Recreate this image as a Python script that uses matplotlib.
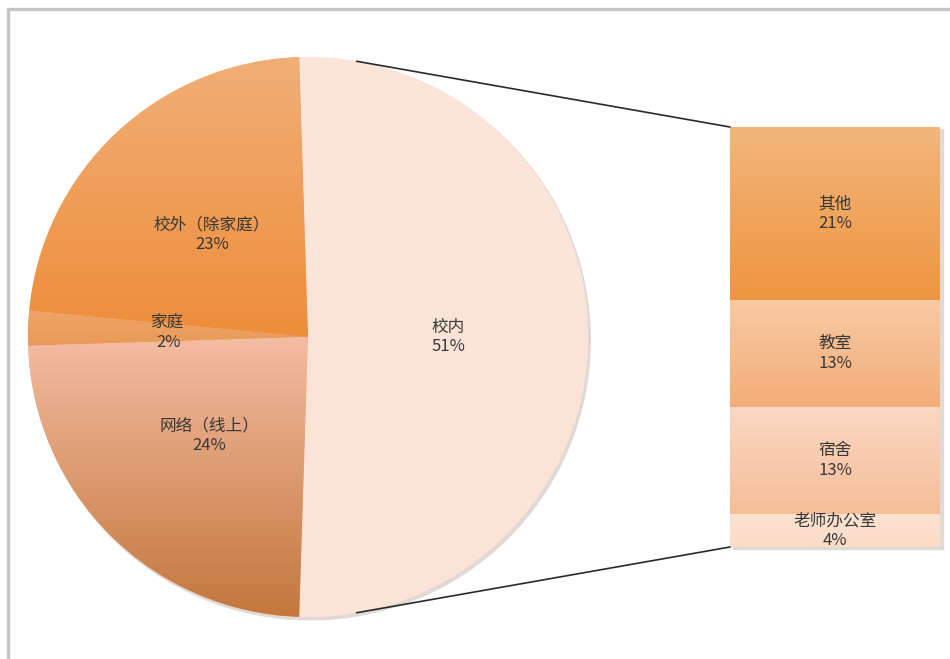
import numpy as np
import matplotlib
matplotlib.use("Agg")
import matplotlib.pyplot as plt
from matplotlib.colors import LinearSegmentedColormap
from matplotlib.patches import Rectangle, Circle, ConnectionPatch

plt.rcParams['font.family'] = ['Noto Sans CJK SC', 'DejaVu Sans']

# pie data (counter-clockwise, 校内 first)
pie_names = ['校内', '校外（除家庭）', '家庭', '网络（线上）']
pie_values = [51, 23, 2, 24]
pie_top = ['#fce6da', '#f1af77', '#efa466', '#f4bca2']
pie_bot = ['#fbe3d5', '#ee8d3a', '#e99a58', '#c3773c']

# breakdown of 校内 (bottom to top)
bar_names = ['老师办公室', '宿舍', '教室', '其他']
bar_values = [4, 13, 13, 21]
bar_top = ['#fce2d1', '#fad8c2', '#f8caa4', '#f2b67c']
bar_bot = ['#fbdcc8', '#f5bd98', '#f3ad78', '#ef9540']

W, H = 950, 659
fig = plt.figure(figsize=(W / 100, H / 100), dpi=100)

# grey frame (cropped on right / bottom)
fig.patches.append(Rectangle((8 / W, -0.1), 1.2, 1 - 9 / H + 0.1,
                             transform=fig.transFigure, fill=False,
                             edgecolor='#c4c4c4', lw=2.4))


def grad_fill(ax, patch, c_top, c_bot, x0, x1, y0, y1):
    cmap = LinearSegmentedColormap.from_list('g', [c_top, c_bot])
    grad = np.linspace(0, 1, 256)[:, None]
    im = ax.imshow(grad, cmap=cmap, extent=(x0, x1, y0, y1),
                   origin='upper', aspect='auto', zorder=patch.get_zorder() + 0.1)
    im.set_clip_path(patch)


txt = dict(ha='center', va='center', fontsize=12, color='#383838',
           linespacing=1.2)

# ---- pie ----
axp = fig.add_axes([28 / W, 42 / H, 560 / W, 560 / H])
startangle = -pie_values[0] / 100 * 360 / 2
labels = [f"{n}\n{v}%" for n, v in zip(pie_names, pie_values)]
shadow = Circle((0.008, -0.01), 1.0, color='#e0d9d5', zorder=0, clip_on=False)
axp.add_patch(shadow)
wedges, texts = axp.pie(pie_values, labels=labels, startangle=startangle,
                        counterclock=True, labeldistance=0.5, colors=pie_top,
                        wedgeprops=dict(linewidth=0), textprops=txt)
for w, ct, cb in zip(wedges, pie_top, pie_bot):
    v = w.get_path().vertices
    grad_fill(axp, w, ct, cb, v[:, 0].min(), v[:, 0].max(),
              v[:, 1].min(), v[:, 1].max())
for t in texts:
    t.set_zorder(5)
axp.set_xlim(-1, 1)
axp.set_ylim(-1, 1)
axp.set_aspect('equal')
axp.axis('off')

# ---- bar ----
axb = fig.add_axes([730 / W, 112 / H, 210 / W, 420 / H])
bottoms = np.cumsum([0] + bar_values[:-1])
bars = axb.bar(0.5, bar_values, width=1.0, bottom=bottoms, color=bar_top,
               linewidth=0, zorder=2)
for b, ct, cb, b0, v in zip(bars, bar_top, bar_bot, bottoms, bar_values):
    grad_fill(axb, b, ct, cb, 0, 1, b0, b0 + v)
axb.add_patch(Rectangle((0.012, -0.25), 1.0, sum(bar_values), color='#e0dad6',
                        zorder=1, clip_on=False))
for b, n, v in zip(bars, bar_names, bar_values):
    axb.text(0.5, b.get_y() + v / 2, f"{n}\n{v}%", zorder=5, **txt)
axb.set_xlim(0, 1)
axb.set_ylim(0, sum(bar_values))
axb.axis('off')

# connector lines
ang = np.deg2rad(80)
for sgn, yb in [(1, sum(bar_values)), (-1, 0)]:
    con = ConnectionPatch(xyA=(np.cos(ang), sgn * np.sin(ang)), coordsA=axp.transData,
                          xyB=(0, yb), coordsB=axb.transData,
                          color='#2a2a2a', lw=1.2)
    fig.add_artist(con)

fig.savefig('out.png', dpi=100)
